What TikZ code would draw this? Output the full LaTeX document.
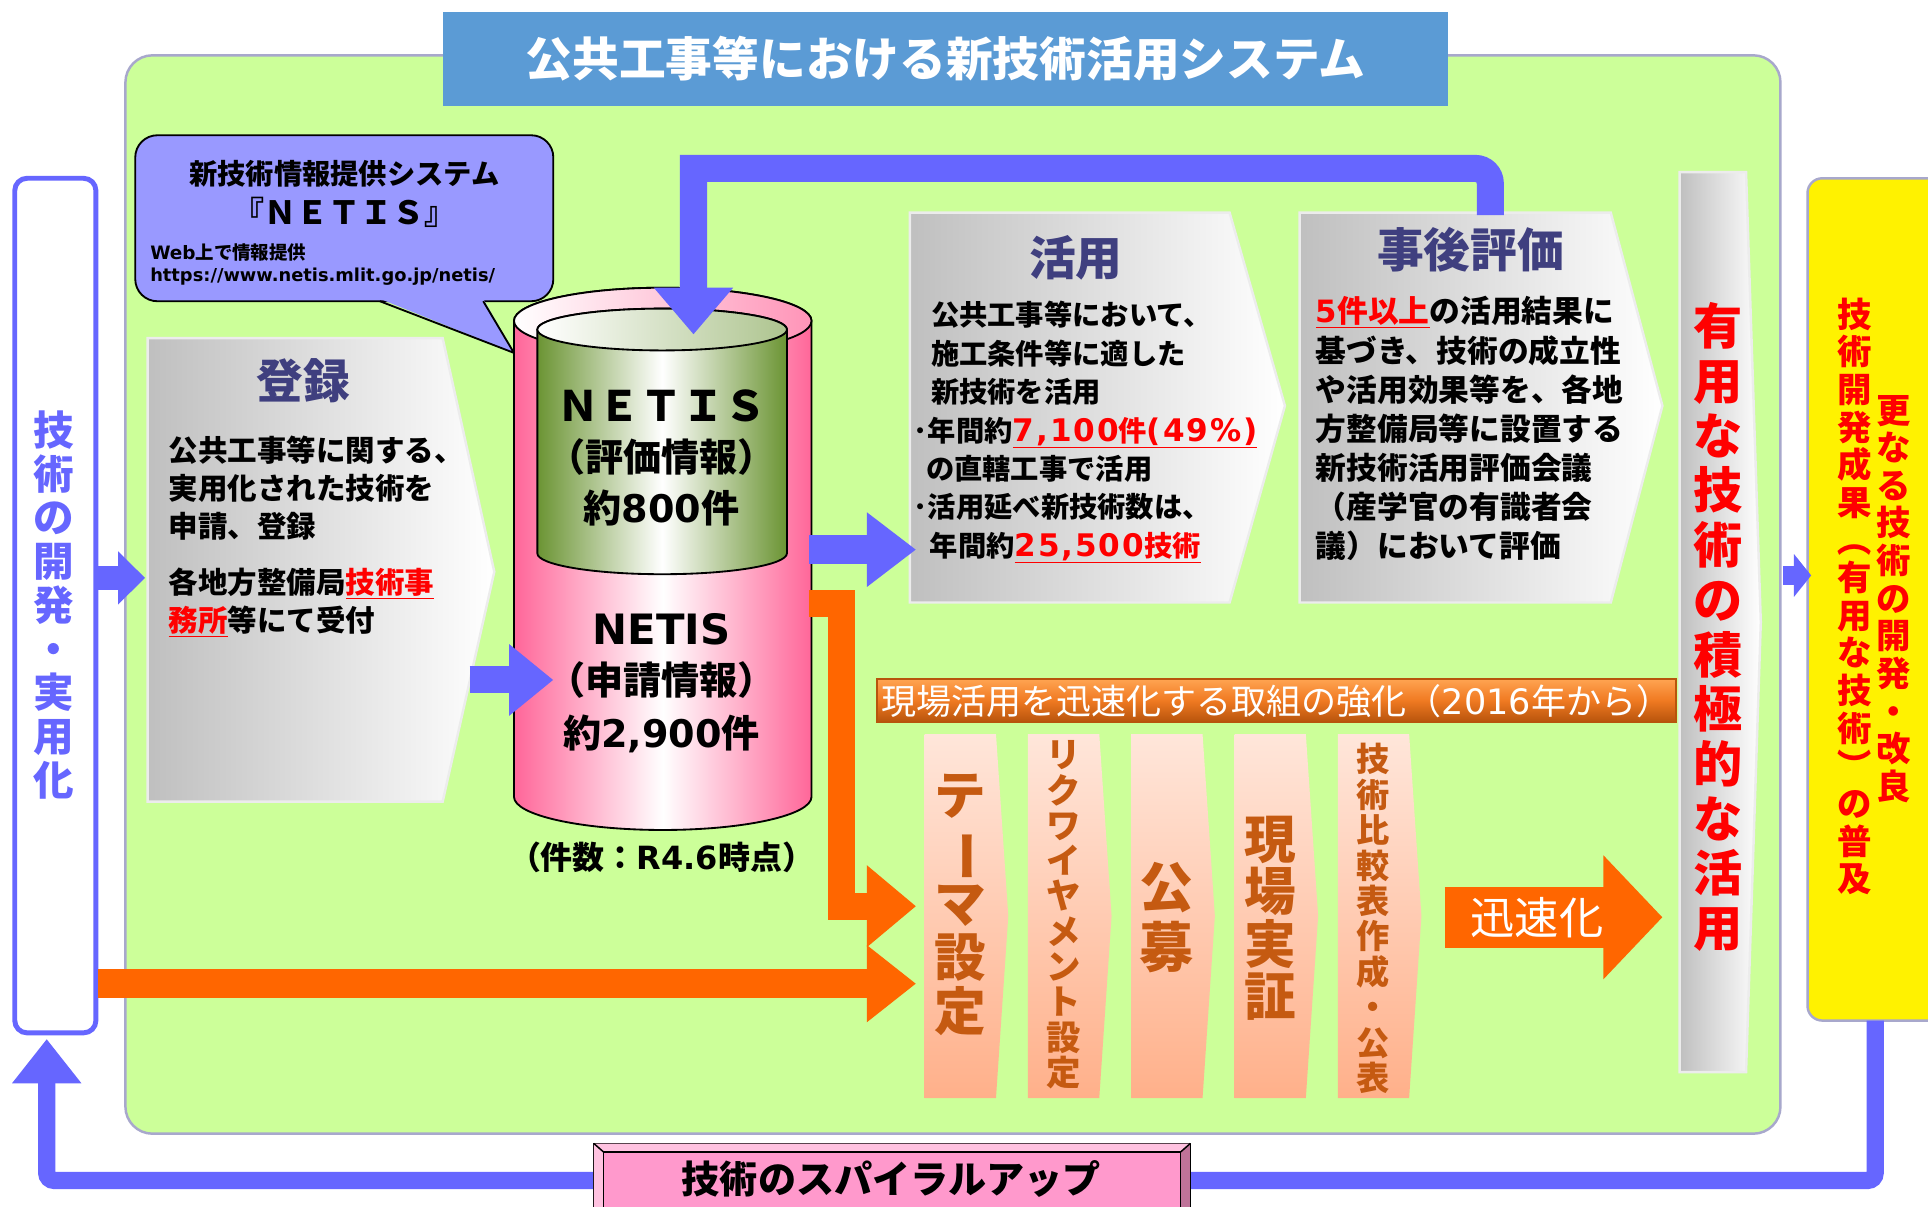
\documentclass[tikz,border=0pt]{standalone}
\usepackage{fontspec}
\setmainfont{Noto Sans CJK JP}
\newfontfamily\lat{DejaVu Sans}
\newfontfamily\latw{DejaVu Sans}[Scale=1.1, LetterSpace=6]
\usetikzlibrary{arrows.meta, positioning, calc}

\definecolor{panelgreen}{HTML}{CCFF99}
\definecolor{rimgray}{HTML}{A8A8CC}
\definecolor{titleblue}{HTML}{5B9BD5}
\definecolor{flowblue}{HTML}{6666FF}
\definecolor{floworange}{HTML}{FF6600}
\definecolor{headnavy}{HTML}{3F3F7F}
\definecolor{calloutblue}{HTML}{9999FF}
\definecolor{pinkedge}{HTML}{FF6699}
\definecolor{greenedge}{HTML}{6B9433}
\definecolor{stepTop}{HTML}{FFE6DA}
\definecolor{stepBot}{HTML}{FFB08A}
\definecolor{stepbrown}{HTML}{C55A11}
\definecolor{barTop}{HTML}{FFA552}
\definecolor{barMid}{HTML}{F07A22}
\definecolor{barBot}{HTML}{B8540C}
\definecolor{spiralpink}{HTML}{FF99CC}

\newcommand\fsz[2]{\fontsize{#1}{#2}\selectfont}
\newcommand\hl[1]{\textcolor{red}{\underline{#1}}}
\newcommand\vbar{\rotatebox[origin=c]{-90}{ー}}
\newcommand\vopen{\rotatebox[origin=c]{-90}{（}}
\newcommand\vclose{\rotatebox[origin=c]{-90}{）}}

\tikzset{
  chevron/.style={left color=gray!50, right color=white, draw=gray!15, line width=2},
  stepcol/.style={top color=stepTop, bottom color=stepBot},
  boxhead/.style={text=headnavy, font=\bfseries\fsz{38}{38}},
  boxbody/.style={align=left, anchor=north west},
  steptext/.style={text=stepbrown, align=center},
}

\begin{document}
\begin{tikzpicture}[x=1pt, y=-1pt, every node/.style={inner sep=0pt}]
\fill[white] (0,0) rectangle (1568,981);
\useasboundingbox (0,0) rectangle (1568,981);

% panel and title
\draw[rimgray, line width=2, fill=panelgreen, rounded corners=22] (102,45) rectangle (1448,922);
\fill[titleblue] (360,10) rectangle (1178,86);
\node[text=white, font=\bfseries\fsz{38}{38}] (title) at (769,48) {公共工事等における新技術活用システム};

% side boxes
\draw[flowblue, line width=4, fill=white, rounded corners=10] (12,145) rectangle (78,840);
\node[text=flowblue, align=center, font=\bfseries\fsz{33}{35.6}] (dev) at (44,492)
  {技\\術\\の\\開\\発\\・\\実\\用\\化};
\draw[rimgray, line width=2, fill=yellow, rounded corners=12] (1470,145) rectangle (1600,830);
\node[text=red, align=center, font=\bfseries\fsz{28}{30.6}] (spreadL) at (1508,485)
  {技\\術\\開\\発\\成\\果\\\vopen\\有\\用\\な\\技\\術\\\vclose\\の\\普\\及};
\node[text=red, align=center, font=\bfseries\fsz{28}{30.6}] (spreadR) at (1540,487)
  {更\\な\\る\\技\\術\\の\\開\\発\\・\\改\\良};

% spiral loop
\coordinate (loopS) at (1525,830);
\coordinate (loopE) at (38,845);
\draw[flowblue, line width=14, rounded corners=6, -{Triangle[length=36pt, width=54pt]}]
  (loopS) -- (1525,960) -- (38,960) -- (loopE);
\draw[black, line width=1.2, fill=spiralpink!75!black] (483,930) rectangle (968,995);
\fill[spiralpink!60!white] (483,930) -- (968,930) -- (960,937) -- (491,937) -- (491,995) -- (483,995) -- cycle;
\draw[black, line width=1.2, fill=spiralpink] (491,937) rectangle (960,995);
\draw[black, line width=1.2] (483,930) -- (491,937) (968,930) -- (960,937);
\node[font=\bfseries\fsz{31}{31}] (spiral) at (725,959) {技術のスパイラルアップ};

% NETIS callout
\filldraw[fill=calloutblue, line width=1.5, rounded corners=18] (110,110) rectangle (450,245);
\fill[calloutblue] (309,243) -- (393,243) -- (418,287) -- cycle;
\draw[line width=1.5] (309,245) -- (418,287) -- (393,245);
\node[font=\bfseries\fsz{23}{23}] (netisname) at (280,141) {新技術情報提供システム};
\node[font=\bfseries\fsz{26}{26}] (netisword) at (280,173) {『ＮＥＴＩＳ』};
\node[font=\bfseries\fsz{15}{18}, align=left, anchor=north west] (netisweb) at (122,198)
  {{\lat Web}上で情報提供\\{\lat\fsz{14.5}{18}https://www.netis.mlit.go.jp/netis/}};

% flow boxes
\path[chevron] (120,275) -- (360,275) -- (402,465) -- (360,652) -- (120,652) -- cycle;
\path[chevron] (740,173) -- (1000,173) -- (1045,330) -- (1000,490) -- (740,490) -- cycle;
\path[chevron] (1057,173) -- (1310,173) -- (1352,330) -- (1310,490) -- (1057,490) -- cycle;
\path[chevron] (1366,140) -- (1420,140) -- (1432,506) -- (1420,872) -- (1366,872) -- cycle;

\node[boxhead] (reghead) at (247,310) {登録};
\node[boxbody, font=\bfseries\fsz{24}{31}] (regbody) at (137,354)
  {公共工事等に関する、\\実用化された技術を\\申請、登録\\[15pt]
   各地方整備局\hl{技術事}\\\hl{務所}等にて受付};
\node[boxhead] (usehead) at (875,210) {活用};
\node[boxbody, font=\bfseries\fsz{23}{31.2}] (usebody) at (743,245)
  {\hspace*{14pt}公共工事等において、\\\hspace*{14pt}施工条件等に適した\\\hspace*{14pt}新技術を活用\\
   ･年間約\hl{{\latw 7,100}件{\latw (49\%)}}\\\hspace*{10pt}の直轄工事で活用\\
   ･活用延べ新技術数は、\\\hspace*{13pt}年間約\hl{{\latw 25,500}技術}};
\node[boxhead] (evalhead) at (1196,203) {事後評価};
\node[boxbody, font=\bfseries\fsz{25}{31.8}] (evalbody) at (1070,241)
  {\hl{{\lat 5}件以上}の活用結果に\\基づき、技術の成立性\\や活用効果等を、各地\\方整備局等に設置する\\
   新技術活用評価会議\\（産学官の有識者会\\議）において評価};
\node[text=red, align=center, font=\bfseries\fsz{40}{44.5}] (active) at (1397,510)
  {有\\用\\な\\技\\術\\の\\積\\極\\的\\な\\活\\用};

% NETIS database
\path[left color=pinkedge, right color=pinkedge, middle color=white, draw=black, line width=1.5]
  (418,261) -- (418,648) arc[start angle=180, end angle=360, x radius=121pt, y radius=27pt]
  -- (660,261) arc[start angle=0, end angle=180, x radius=121pt, y radius=27pt] -- cycle;
\path[left color=white, right color=pinkedge!70, draw=black, line width=1.5]
  (539,261) ellipse [x radius=121pt, y radius=27pt];
\path[left color=greenedge, right color=greenedge, middle color=white, draw=black, line width=1.5]
  (437,268) -- (437,450) arc[start angle=180, end angle=360, x radius=101.5pt, y radius=17pt]
  -- (640,268) arc[start angle=0, end angle=180, x radius=101.5pt, y radius=17pt] -- cycle;
\path[left color=white, right color=greenedge!55, draw=black, line width=1.5]
  (538.5,268) ellipse [x radius=101.5pt, y radius=17pt];
\node[font=\bfseries\fsz{34}{34}] (evalname) at (538,330) {ＮＥＴＩＳ};
\node[font=\bfseries\fsz{31}{31}] (evalkind) at (538,372) {（評価情報）};
\node[font=\bfseries\fsz{31}{31}] (evalcount) at (538,413) {約{\lat 800}件};
\node[font=\bfseries\fsz{34}{34}] (appname) at (538,512) {\lat NETIS};
\node[font=\bfseries\fsz{31}{31}] (appkind) at (538,553) {（申請情報）};
\node[font=\bfseries\fsz{31}{31}] (appcount) at (538,597) {約{\lat 2,900}件};
\node[font=\bfseries\fsz{26}{26}] (asof) at (538,697) {（件数：{\lat R4.6}時点）};

% blue flow
\coordinate (devR) at (80,470);
\coordinate (regL) at (118,470);
\coordinate (regR) at (382,553);
\coordinate (dbL) at (450,553);
\coordinate (dbR) at (658,447);
\coordinate (useL) at (745,447);
\coordinate (evalT) at (1212,175);
\coordinate (dbT) at (564,272);
\coordinate (activeR) at (1450,468);
\coordinate (spreadIn) at (1473,468);
\draw[flowblue, line width=20, -{Triangle[length=22pt, width=42pt]}] (devR) -- (regL);
\draw[flowblue, line width=22, -{Triangle[length=36pt, width=56pt]}] (regR) -- (dbL);
\draw[flowblue, line width=24, -{Triangle[length=40pt, width=58pt]}] (dbR) -- (useL);
\draw[flowblue, line width=22, -{Triangle[length=38pt, width=62pt]}]
  (evalT) [rounded corners=12] -- (1212,137) [sharp corners] -- (564,137) -- (dbT);
\draw[flowblue, line width=16, -{Triangle[length=14pt, width=34pt]}] (activeR) -- (spreadIn);

% speed-up steps
\fill[top color=barTop, bottom color=barBot, middle color=barMid] (713,552) rectangle (1363,587);
\draw[barBot, line width=1.5] (713,552) rectangle (1363,587);
\node[text=white, font=\fsz{28.5}{28.5}] (speedbar) at (1038,570) {現場活用を迅速化する取組の強化（{\lat 2016}年から）};
\foreach \x in {752,836,920,1004,1088}
  \path[stepcol] (\x,597) -- (\x+58,597) -- (\x+68,745) -- (\x+58,893) -- (\x,893) -- cycle;
\node[steptext, font=\bfseries\fsz{42}{43.8}] (theme) at (781,736) {テ\\\vbar\\マ\\設\\定};
\node[steptext, font=\bfseries\fsz{28}{28.7}] (require) at (865,744) {リ\\ク\\ワ\\イ\\ヤ\\メ\\ン\\ト\\設\\定};
\node[steptext, font=\bfseries\fsz{44}{49}] (invite) at (949,746) {公\\募};
\node[steptext, font=\bfseries\fsz{42}{42.7}] (field) at (1033,747) {現\\場\\実\\証};
\node[steptext, font=\bfseries\fsz{27}{28.8}] (compare) at (1117,747) {技\\術\\比\\較\\表\\作\\成\\・\\公\\表};

\coordinate (dbO) at (658,491);
\coordinate (themeA) at (745,737);
\coordinate (devO) at (80,800);
\coordinate (themeB) at (745,800);
\draw[floworange, line width=22, -{Triangle[length=40pt, width=64pt]}] (dbO) -- (684,491) -- (684,737) -- (themeA);
\draw[floworange, line width=24, -{Triangle[length=40pt, width=60pt]}] (devO) -- (themeB);
\coordinate (fastL) at (1175,746);
\coordinate (fastR) at (1352,746);
\draw[floworange, line width=50, -{Triangle[length=48pt, width=98pt]}] (fastL) -- (fastR);
\node[text=white, font=\fsz{36}{36}] (fast) at (1250,746) {迅速化};
\end{tikzpicture}
\end{document}
